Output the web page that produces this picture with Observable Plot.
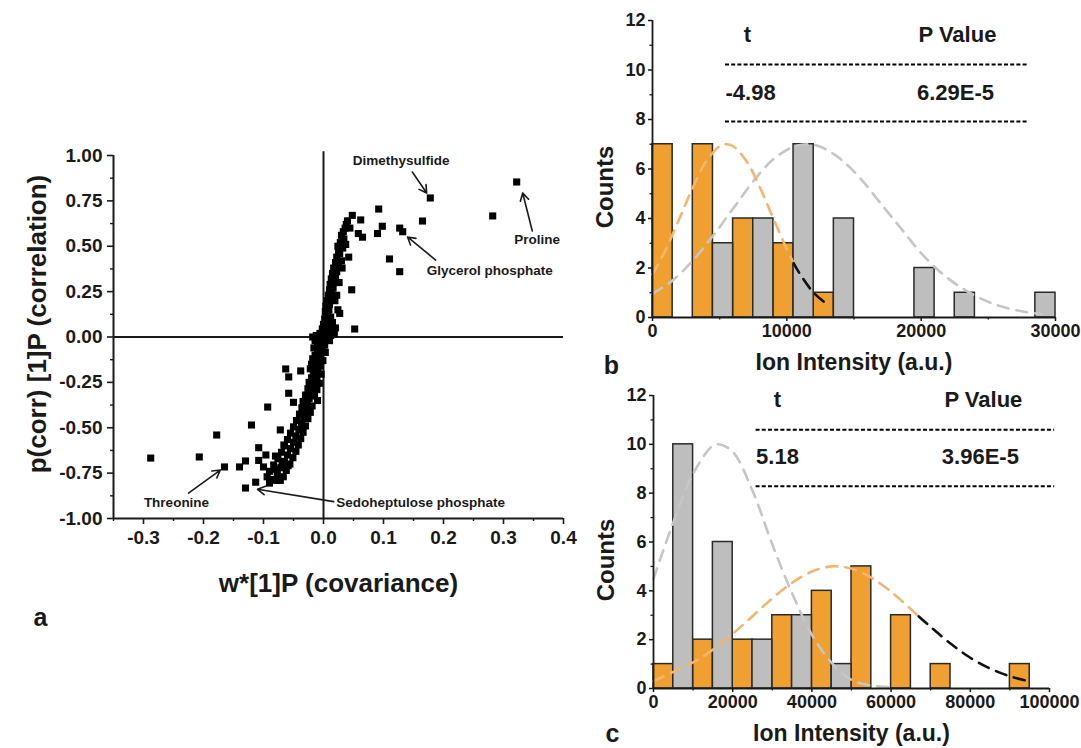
<!DOCTYPE html>
<html><head><meta charset="utf-8">
<script src="https://cdn.jsdelivr.net/npm/d3@7"></script>
<script src="https://cdn.jsdelivr.net/npm/@observablehq/plot@0.6"></script>
<style>
body{margin:0;background:#fff;}
#wrap{position:relative;width:1081px;height:748px;overflow:hidden;background:#fff;}
#wrap svg{position:absolute;overflow:visible;}
</style></head><body><div id="wrap"></div>
<script>
// ---------- Panel a: OPLS-DA S-plot ----------
const scatterPoints = [
[0.322,0.854],[0.178,0.766],[0.282,0.667],[0.165,0.639],[0.092,0.705],[0.098,0.610],[0.090,0.570],[0.127,0.600],[0.132,0.580],[0.110,0.430],[0.127,0.360],[0.048,0.670],[0.062,0.645],[0.058,0.570],[0.065,0.550],[0.038,0.620],[0.033,0.580],[0.037,0.510],[0.025,0.470],[0.042,0.440],[0.047,0.260],[0.027,0.130],[0.052,0.044],
[0.040,0.640],[0.044,0.600],[0.036,0.600],[0.030,0.560],[0.034,0.540],[0.028,0.520],[0.032,0.490],[0.024,0.500],[0.027,0.460],[0.022,0.440],[0.030,0.420],[0.020,0.410],[0.025,0.390],[0.017,0.380],[0.022,0.360],[0.015,0.350],[0.020,0.330],[0.013,0.320],[0.018,0.300],[0.011,0.290],[0.016,0.270],[0.010,0.260],[0.014,0.240],[0.008,0.230],[0.013,0.210],[0.006,0.200],[0.010,0.180],[0.004,0.170],[0.009,0.150],[0.003,0.140],[0.007,0.120],[0.012,0.110],[0.002,0.100],[0.006,0.085],[0.015,0.080],[0.000,0.070],[0.004,0.060],[0.012,0.066],[0.020,0.050],[-0.002,0.045],[0.008,0.040],[0.002,0.030],[0.016,0.025],[-0.006,0.020],[0.006,0.015],[0.012,0.008],[0.018,0.018],[-0.012,0.008],[-0.004,0.005],[0.024,0.150],[0.022,0.230],[0.026,0.300],[0.019,0.200],[0.031,0.380],
[-0.018,0.000],[-0.008,-0.005],[0.004,-0.010],[0.010,-0.020],[-0.014,-0.020],[-0.002,-0.025],[-0.010,-0.040],[0.002,-0.045],[-0.006,-0.055],[-0.016,-0.060],[-0.002,-0.070],[-0.010,-0.080],[0.003,-0.085],[-0.014,-0.100],[-0.006,-0.105],[-0.018,-0.120],[-0.008,-0.125],[-0.001,-0.130],[-0.012,-0.145],[-0.020,-0.150],[-0.006,-0.160],[-0.014,-0.170],[-0.022,-0.175],[-0.009,-0.185],[-0.017,-0.200],[-0.004,-0.205],[-0.011,-0.220],[-0.020,-0.225],[-0.014,-0.245],[-0.024,-0.250],[-0.007,-0.255],[-0.018,-0.270],[-0.026,-0.285],[-0.011,-0.290],[-0.021,-0.305],[-0.030,-0.320],[-0.015,-0.325],[-0.024,-0.340],[-0.034,-0.355],[-0.010,-0.350],[-0.027,-0.370],[-0.019,-0.380],[-0.036,-0.390],[-0.030,-0.405],[-0.022,-0.415],[-0.040,-0.425],[-0.033,-0.440],[-0.026,-0.450],[-0.045,-0.460],[-0.037,-0.475],[-0.030,-0.490],[-0.050,-0.495],[-0.041,-0.510],[-0.034,-0.525],[-0.055,-0.530],[-0.046,-0.545],[-0.038,-0.560],[-0.060,-0.565],[-0.050,-0.580],[-0.042,-0.595],[-0.065,-0.600],[-0.055,-0.615],[-0.046,-0.630],[-0.070,-0.635],[-0.060,-0.650],[-0.051,-0.665],[-0.076,-0.670],[-0.065,-0.685],[-0.056,-0.700],[-0.083,-0.705],[-0.071,-0.720],[-0.062,-0.735],[-0.090,-0.740],[-0.077,-0.755],[-0.067,-0.770],[-0.094,-0.770],[-0.085,-0.785],[-0.072,-0.790],[-0.090,-0.805],
[-0.288,-0.667],[-0.207,-0.661],[-0.178,-0.540],[-0.165,-0.716],[-0.140,-0.716],[-0.130,-0.683],[-0.130,-0.832],[-0.113,-0.800],[-0.120,-0.485],[-0.093,-0.386],[-0.063,-0.176],[-0.058,-0.220],[-0.038,-0.187],[-0.058,-0.310],[-0.050,-0.360],[-0.078,-0.790],[-0.108,-0.610],[-0.108,-0.680],[-0.100,-0.716],[-0.096,-0.650],[-0.080,-0.656],[-0.081,-0.729],[-0.069,-0.703],[-0.059,-0.709],[-0.072,-0.512],[-0.066,-0.595]
];
const aXTicks = [-0.3,-0.2,-0.1,0,0.1,0.2,0.3,0.4];
const aXMinor = [-0.35,-0.25,-0.15,-0.05,0.05,0.15,0.25,0.35];
const aYTicks = [-1,-0.75,-0.5,-0.25,0,0.25,0.5,0.75,1];
const aYMinor = [-0.875,-0.625,-0.375,-0.125,0.125,0.375,0.625,0.875];
const annotLabels = ["Dimethysulfide","Proline","Glycerol phosphate","Threonine","Sedoheptulose phosphate"];
const annotX = [0.1295,0.356,0.277,-0.245,0.162];
const annotY = [0.971,0.534,0.364,-0.911,-0.911];
const arrowX1 = [0.148,0.348,0.187,-0.225,0.017];
const arrowY1 = [0.909,0.584,0.424,-0.860,-0.907];
const arrowX2 = [0.172,0.332,0.140,-0.172,-0.110];
const arrowY2 = [0.793,0.793,0.551,-0.733,-0.839];

// ---------- Panel b ----------
const bBinWidth = 1500;
const bOrangeBins = [0,3000,6000,9000,12000];
const bOrangeCounts = [7,7,4,3,1];
const bGrayBins = [4500,7500,10500,13500,19500,22500,28500];
const bGrayCounts = [3,4,7,4,2,1,1];
const bOrangeCurveX = [0,1000,2000,3000,4000,5000,5500,6000,7000,8000,9000,10000,10500];
const bOrangeCurveY = [1.74,2.76,3.99,5.25,6.31,6.92,7.0,6.92,6.31,5.25,3.99,2.76,2.2];
const bBlackCurveX = [10500,11000,12000,13000];
const bBlackCurveY = [2.2,1.74,1.0,0.53];
const bGrayCurveX = [0,1500,3000,4500,6000,7500,9000,10500,11500,12500,14000,15500,17000,18500,20000,21500,23000,24500,26000,27500,29000];
const bGrayCurveY = [0.96,1.5,2.3,3.3,4.4,5.5,6.4,6.9,7.0,6.9,6.4,5.6,4.6,3.6,2.6,1.8,1.2,0.75,0.44,0.25,0.13];
const bStatHeaders = ["t","P Value"];
const bStatValues = ["-4.98","6.29E-5"];

// ---------- Panel c ----------
const cBinWidth = 5000;
const cOrangeBins = [0,10000,20000,30000,40000,50000,60000,70000,90000];
const cOrangeCounts = [1,2,2,3,4,5,3,1,1];
const cGrayBins = [5000,15000,25000,35000,45000];
const cGrayCounts = [10,6,2,3,1];
const cOrangeCurveX = [0,5000,10000,15000,20000,25000,30000,35000,40000,45000,50000,55000,60000,65000,67000];
const cOrangeCurveY = [0.3,0.68,1.07,1.59,2.24,2.96,3.69,4.33,4.79,5.0,4.91,4.54,3.96,3.25,2.95];
const cBlackCurveX = [67000,70000,75000,80000,85000,90000,95000];
const cBlackCurveY = [2.95,2.52,1.84,1.26,0.82,0.50,0.29];
const cGrayCurveX = [0,5000,10000,15000,16500,20000,25000,30000,35000,40000,45000,50000,55000,60000];
const cGrayCurveY = [4.5,6.8,8.8,9.95,10,9.7,8.1,5.9,3.9,2.2,1.05,0.35,0.12,0.05];
const cStatHeaders = ["t","P Value"];
const cStatValues = ["5.18","3.96E-5"];

const countTicks = [0,2,4,6,8,10,12];
const countMinor = [1,3,5,7,9,11];

// ---------- styling ----------
const FONT = "'Liberation Sans', Arial, Helvetica, sans-serif";
const INK = "#1a1a1a";
const ORANGE = "#F0A030";
const GRAY = "#BEBEBE";
const ORANGE_LINE = "#F5B56E";
const GRAY_LINE = "#C6C6C6";
const wrap = document.getElementById("wrap");

function place(svg, left, top) {
  svg.style.left = left + "px";
  svg.style.top = top + "px";
  wrap.appendChild(svg);
}

// Panel a
const plotA = Plot.plot({
  width: 600, height: 640,
  marginLeft: 113, marginRight: 37, marginTop: 155, marginBottom: 122,
  x: {domain: [-0.35, 0.4]},
  y: {domain: [-1, 1]},
  style: {fontFamily: FONT, fontWeight: "bold", fontSize: "19px", background: "transparent", color: INK},
  marks: [
    Plot.axisY({ticks: aYTicks, tickSize: 6, tickPadding: 5, tickFormat: d => d.toFixed(2), label: null, strokeWidth: 1.6}),
    Plot.axisY({ticks: aYMinor, tickSize: 3, tickFormat: () => "", label: null, strokeWidth: 1.4}),
    Plot.axisX({ticks: aXTicks, tickSize: 6, tickPadding: 6, tickFormat: d => d.toFixed(1), label: null, strokeWidth: 1.6}),
    Plot.axisX({ticks: aXMinor, tickSize: 3, tickFormat: () => "", label: null, strokeWidth: 1.4}),
    Plot.ruleX([-0.35], {stroke: INK, strokeWidth: 2}),
    Plot.ruleY([-1], {stroke: INK, strokeWidth: 2}),
    Plot.ruleY([0], {stroke: INK, strokeWidth: 2}),
    Plot.ruleX([0], {y1: -1, y2: 1.02, stroke: INK, strokeWidth: 2}),
    Plot.dot(scatterPoints, {x: d => d[0], y: d => d[1], symbol: "square", r: 4, fill: "#000", stroke: null}),
    Plot.arrow(annotLabels, {x1: (d, i) => arrowX1[i], y1: (d, i) => arrowY1[i], x2: (d, i) => arrowX2[i], y2: (d, i) => arrowY2[i], stroke: INK, strokeWidth: 1.6, headLength: 8}),
    Plot.text(annotLabels, {x: (d, i) => annotX[i], y: (d, i) => annotY[i], text: d => d, fontSize: 13.5, fill: INK, textAnchor: "middle", lineAnchor: "middle"}),
    Plot.text(["p(corr) [1]P (correlation)"], {frameAnchor: "left", dx: -76, dy: -13, rotate: -90, fontSize: 26, textAnchor: "middle", lineAnchor: "middle", fill: INK}),
    Plot.text(["w*[1]P (covariance)"], {frameAnchor: "bottom", dy: 65, fontSize: 26, textAnchor: "middle", lineAnchor: "middle", fill: INK}),
    Plot.text(["a"], {frameAnchor: "bottom-left", dx: -73, dy: 99, fontSize: 25, textAnchor: "middle", lineAnchor: "middle", fill: INK})
  ]
});
place(plotA, 0, 0);

function histPanel(cfg) {
  const orangeRows = cfg.orangeBins.map((s, i) => ({x1: s, x2: s + cfg.binWidth, y: cfg.orangeCounts[i]}));
  const grayRows = cfg.grayBins.map((s, i) => ({x1: s, x2: s + cfg.binWidth, y: cfg.grayCounts[i]}));
  const toRows = (xs, ys) => xs.map((x, i) => ({x, y: ys[i]}));
  const dash = {strokeWidth: 2.6, strokeDasharray: "11,8", curve: "catmull-rom"};
  return Plot.plot({
    width: 521, height: cfg.height,
    marginLeft: cfg.ml, marginRight: cfg.mr, marginTop: cfg.mt, marginBottom: cfg.mb,
    x: {domain: cfg.xDomain},
    y: {domain: [0, 12]},
    style: {fontFamily: FONT, fontWeight: "bold", fontSize: "18px", background: "transparent", color: INK},
    marks: [
      Plot.rectY(orangeRows, {x1: "x1", x2: "x2", y1: 0, y2: "y", fill: ORANGE, stroke: "#2a2a2a", strokeWidth: 1.5}),
      Plot.rectY(grayRows, {x1: "x1", x2: "x2", y1: 0, y2: "y", fill: GRAY, stroke: "#2a2a2a", strokeWidth: 1.5}),
      Plot.line(toRows(cfg.grayCurveX, cfg.grayCurveY), {x: "x", y: "y", stroke: GRAY_LINE, ...dash}),
      Plot.line(toRows(cfg.orangeCurveX, cfg.orangeCurveY), {x: "x", y: "y", stroke: ORANGE_LINE, ...dash}),
      Plot.line(toRows(cfg.blackCurveX, cfg.blackCurveY), {x: "x", y: "y", stroke: "#111", ...dash}),
      Plot.axisY({ticks: countTicks, tickSize: 4, tickPadding: 3, tickFormat: d => String(d), label: null, strokeWidth: 1.5}),
      Plot.axisY({ticks: countMinor, tickSize: 2.5, tickFormat: () => "", label: null, strokeWidth: 1.3}),
      Plot.axisX({ticks: cfg.xTicks, tickSize: 4, tickPadding: 3, tickFormat: d => String(d), label: null, strokeWidth: 1.5}),
      Plot.axisX({ticks: cfg.xMinor, tickSize: 2.5, tickFormat: () => "", label: null, strokeWidth: 1.3}),
      Plot.ruleX([0], {stroke: INK, strokeWidth: 1.8}),
      Plot.ruleY([0], {stroke: INK, strokeWidth: 1.8}),
      Plot.ruleY(cfg.dashY, {x1: cfg.dashX1, x2: cfg.dashX2, stroke: "#000", strokeWidth: 2, strokeDasharray: "4,2.2"}),
      Plot.text(cfg.headers, {x: (d, i) => cfg.headerX[i], y: cfg.headerY, text: d => d, fontSize: 22, textAnchor: "middle", lineAnchor: "middle", fill: INK}),
      Plot.text([cfg.values[0]], {x: cfg.dashX1, y: cfg.valueY, text: d => d, fontSize: 22, textAnchor: "start", lineAnchor: "middle", fill: INK}),
      Plot.text([cfg.values[1]], {x: cfg.valueX, y: cfg.valueY, text: d => d, fontSize: 22, textAnchor: "middle", lineAnchor: "middle", fill: INK}),
      Plot.text(["Counts"], {frameAnchor: "left", dx: -47, dy: cfg.countsDy, rotate: -90, fontSize: 24, textAnchor: "middle", lineAnchor: "middle", fill: INK}),
      Plot.text(["Ion Intensity (a.u.)"], {frameAnchor: "bottom", dy: 45, fontSize: 23, textAnchor: "middle", lineAnchor: "middle", fill: INK}),
      Plot.text([cfg.letter], {frameAnchor: "bottom-left", dx: -41, dy: cfg.letterDy, fontSize: 25, textAnchor: "middle", lineAnchor: "middle", fill: INK})
    ]
  });
}

const plotB = histPanel({
  height: 380, ml: 92, mr: 26, mt: 20, mb: 63,
  xDomain: [0, 30000], xTicks: [0, 10000, 20000, 30000], xMinor: [5000, 15000, 25000],
  binWidth: bBinWidth, orangeBins: bOrangeBins, orangeCounts: bOrangeCounts, grayBins: bGrayBins, grayCounts: bGrayCounts,
  orangeCurveX: bOrangeCurveX, orangeCurveY: bOrangeCurveY, blackCurveX: bBlackCurveX, blackCurveY: bBlackCurveY,
  grayCurveX: bGrayCurveX, grayCurveY: bGrayCurveY,
  headers: bStatHeaders, values: bStatValues,
  headerX: [7070, 22700], headerY: 11.4, dashY: [10.22, 7.92], dashX1: 5434, dashX2: 28000,
  valueY: 9.09, valueX: 22560, countsDy: 18, letter: "b", letterDy: 48
});
place(plotB, 560, 0);

const plotC = histPanel({
  height: 378, ml: 93, mr: 32, mt: 25, mb: 60,
  xDomain: [0, 100000], xTicks: [0, 20000, 40000, 60000, 80000, 100000], xMinor: [10000, 30000, 50000, 70000, 90000],
  binWidth: cBinWidth, orangeBins: cOrangeBins, orangeCounts: cOrangeCounts, grayBins: cGrayBins, grayCounts: cGrayCounts,
  orangeCurveX: cOrangeCurveX, orangeCurveY: cOrangeCurveY, blackCurveX: cBlackCurveX, blackCurveY: cBlackCurveY,
  grayCurveX: cGrayCurveX, grayCurveY: cGrayCurveY,
  headers: cStatHeaders, values: cStatValues,
  headerX: [31300, 83300], headerY: 11.8, dashY: [10.6, 8.28], dashX1: 25900, dashX2: 101300,
  valueY: 9.5, valueX: 82550, countsDy: 18, letter: "c", letterDy: 45
});
place(plotC, 560, 370);
</script></body></html>
